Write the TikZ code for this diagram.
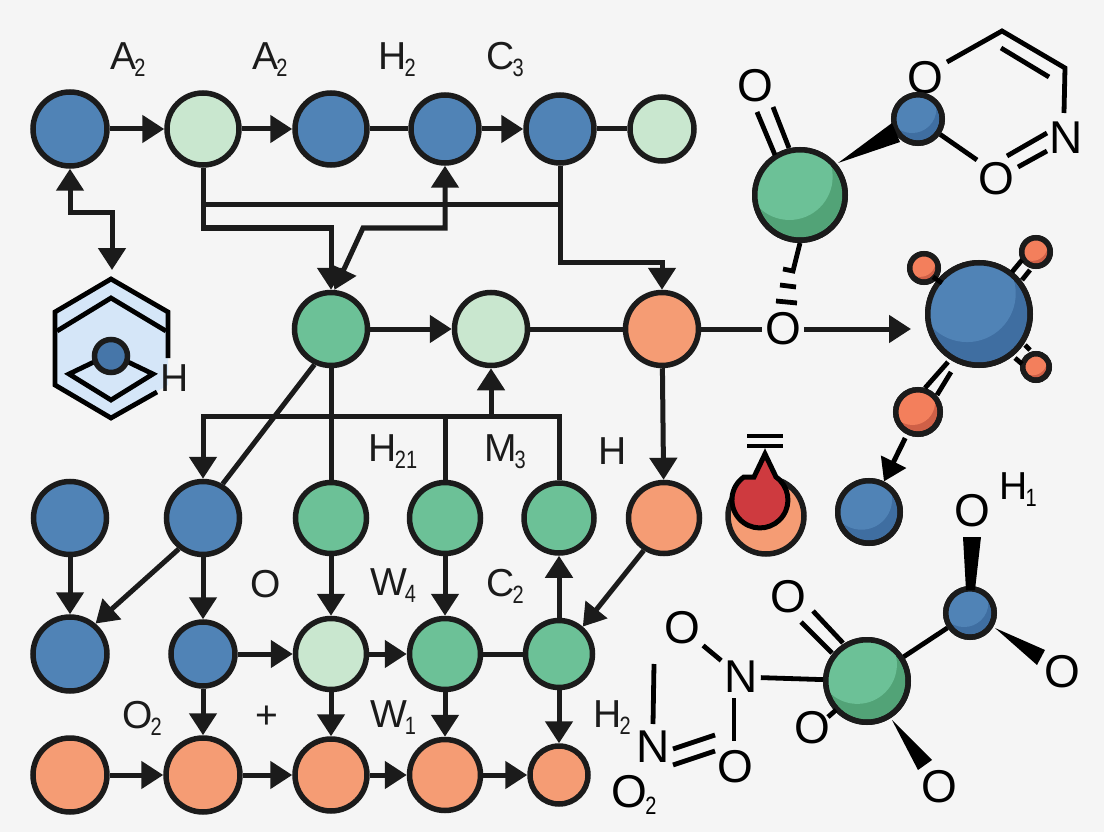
\documentclass[tikz,border=0pt]{standalone}
\usepackage{fontspec}
\setmainfont{Liberation Sans}
\usetikzlibrary{arrows.meta}
\definecolor{bgc}{HTML}{F5F5F5}
\definecolor{ink}{HTML}{1B1B1B}
\definecolor{blueN}{HTML}{5083B6}
\definecolor{blueD}{HTML}{3F6EA1}
\definecolor{greenN}{HTML}{6CC197}
\definecolor{greenD}{HTML}{52A377}
\definecolor{lightN}{HTML}{C9E7CF}
\definecolor{orangeN}{HTML}{F59C74}
\definecolor{coralN}{HTML}{F37F5C}
\definecolor{coralD}{HTML}{CF6047}
\definecolor{redN}{HTML}{CE3A3F}
\definecolor{hexN}{HTML}{D5E6F8}
\newcommand{\sbs}[1]{\raisebox{-7pt}{\fontsize{25}{25}\selectfont\hspace{-2pt}\scalebox{.8}[1]{#1}}}
\tikzset{
  dot/.style={circle,draw=ink,line width=5.5pt,inner sep=0pt,minimum size=#1},
  lab/.style={inner sep=0pt,text=ink,font=\fontsize{39}{39}\selectfont},
  atom/.style={inner sep=3pt,text=black,font=\fontsize{46}{46}\selectfont},
  atomn/.style={inner sep=3pt,text=black,font=\fontsize{46}{46}\selectfont},
  flow/.style={draw=ink,line width=5pt,line join=miter},
  tipr/.style={-{Triangle[length=22pt,width=27pt]}},
  tipb/.style={{Triangle[length=22pt,width=27pt]}-{Triangle[length=22pt,width=27pt]}},
  tipl/.style={{Triangle[length=22pt,width=27pt]}-},
  bond/.style={draw=black,line width=4.8pt},
}
% name, x, y, R, light, dark
\newcommand{\ball}[6]{%
  \pgfmathsetmacro{\bd}{2*#4-5.5}%
  \pgfmathsetmacro{\bcx}{#2-.22*#4}%
  \pgfmathsetmacro{\bcy}{#3-.38*#4}%
  \pgfmathsetmacro{\brr}{.9*#4}%
  \pgfmathsetmacro{\bri}{#4-2.75}%
  \node[dot=\bd pt,fill=#6] (#1) at (#2,#3) {};
  \begin{scope}
    \clip (#2,#3) circle (\bri);
    \fill[#5] (\bcx,\bcy) circle (\brr);
  \end{scope}
  \draw[draw=ink,line width=5.5pt] (#2,#3) circle (\bri);}
\begin{document}
\begin{tikzpicture}[x=1pt,y=-1pt]
\useasboundingbox (0,0) rectangle (1104,832);
\fill[bgc] (0,0) rectangle (1104,832);
% row 1
\node[dot=74pt,fill=blueN] (a1) at (70,129) {};
\node[dot=72pt,fill=lightN] (a2) at (203,129) {};
\node[dot=72pt,fill=blueN] (a3) at (331,129) {};
\node[dot=68pt,fill=blueN] (a4) at (445,129) {};
\node[dot=68pt,fill=blueN] (a5) at (560,129) {};
\node[dot=64pt,fill=lightN] (a6) at (662,129) {};
% row 2
\node[dot=73pt,fill=greenN] (g) at (331,329) {};
\node[dot=73pt,fill=lightN] (l) at (491,329) {};
\node[dot=73pt,fill=orangeN] (o) at (662,329) {};
% row 3
\node[dot=73pt,fill=blueN] (b1) at (70,518) {};
\node[dot=73pt,fill=blueN] (b2) at (203,518) {};
\node[dot=71pt,fill=greenN] (b3) at (331,518) {};
\node[dot=71pt,fill=greenN] (b4) at (445,518) {};
\node[dot=70pt,fill=greenN] (b5) at (559,518) {};
\node[dot=71pt,fill=orangeN] (b6) at (664,518) {};
% row 4
\node[dot=74pt,fill=blueN] (c1) at (70,654) {};
\node[dot=64pt,fill=blueN] (c2) at (203,654) {};
\node[dot=71pt,fill=lightN] (c3) at (331,654) {};
\node[dot=71pt,fill=greenN] (c4) at (445,654) {};
\node[dot=67pt,fill=greenN] (c5) at (559,654) {};
% row 5
\node[dot=74pt,fill=orangeN] (d1) at (70,775) {};
\node[dot=74pt,fill=orangeN] (d2) at (203,775) {};
\node[dot=72pt,fill=orangeN] (d3) at (331,775) {};
\node[dot=71pt,fill=orangeN] (d4) at (445,775) {};
\node[dot=58pt,fill=orangeN] (d5) at (559,775) {};
% routing points
\coordinate (j1) at (331,228);
\coordinate (j2) at (363,228);
\coordinate (j3) at (203,205);
\coordinate (j4) at (662,262);
\coordinate (j5) at (70,213);
\coordinate (hexin) at (112,270);
\coordinate (busL) at (203,416);
\coordinate (busM) at (491,416);
\coordinate (arrowend) at (911,329);
% row connectors
\draw[flow,tipr] (a1) -- (a2);
\draw[flow,tipr] (a2) -- (a3);
\draw[flow] (a3) -- (a4);
\draw[flow,tipr] (a4) -- (a5);
\draw[flow] (a5) -- (a6);
\draw[flow,tipb] (a1.south) -- (j5) -| (hexin);
\draw[flow,tipr] (a2.south) |- (j1) -- (g.north);
\draw[flow,tipb] (g.85) -- (j2) -| (a4.south);
\draw[flow] (a5.south) |- (j3);
\draw[flow,tipr] (a5.south) |- (j4) -- (o.north);
\draw[flow,tipr] (g) -- (l);
\draw[flow] (l) -- (o);
\draw[flow,tipr] (o) -- (b6);
\draw[flow] (g.245) -- (b2.60);
\draw[flow] (g.south) -- (b3.north);
\draw[flow,tipl] (b2.north) -- (busL) -| (b5.north);
\draw[flow] (b4.north) -- (b4.north |- busL);
\draw[flow,tipl] (l.south) -- (busM);
\draw[flow,tipr] (b1) -- (c1);
\draw[flow,tipr] (b2.232) -- (c1.50);
\draw[flow,tipr] (b2) -- (c2);
\draw[flow,tipr] (b3) -- (c3);
\draw[flow,tipr] (b4) -- (c4);
\draw[flow,tipr] (c5) -- (b5);
\draw[flow,tipr] (b6.238) -- (c5.49);
\draw[flow,tipr] (c2) -- (c3);
\draw[flow,tipr] (c3) -- (c4);
\draw[flow] (c4) -- (c5);
\draw[flow,tipr] (c2) -- (d2);
\draw[flow,tipr] (c3) -- (d3);
\draw[flow,tipr] (c4) -- (d4);
\draw[flow,tipr] (c5) -- (d5);
\draw[flow,tipr] (d1) -- (d2);
\draw[flow,tipr] (d2) -- (d3);
\draw[flow,tipr] (d3) -- (d4);
\draw[flow,tipr] (d4) -- (d5);
% labels
\node[lab] (t1) at (128,60) {A\sbs{2}};
\node[lab] (t2) at (270,60) {A\sbs{2}};
\node[lab] (t3) at (397,60) {H\sbs{2}};
\node[lab] (t4) at (505,60) {C\sbs{3}};
\node[lab] (t5) at (393,452) {H\sbs{21}};
\node[lab] (t6) at (505,452) {M\sbs{3}};
\node[lab] (t7) at (613,451) {H};
\node[lab] (t8) at (266,584) {O};
\node[lab] (t9) at (393,586) {W\sbs{4}};
\node[lab] (t10) at (505,586) {C\sbs{2}};
\node[lab] (t11) at (142,718) {O\sbs{2}};
\node[lab] (t12) at (267,717) {+};
\node[lab] (t13) at (393,718) {W\sbs{1}};
\node[lab] (t14) at (612,718) {H\sbs{2}};
% hexagon
\fill[hexN] (111,279) -- (168,312) -- (168,385) -- (111,418) -- (55,385) -- (55,312) -- cycle;
\draw[bond,miter limit=10] (168,358) -- (168,312) -- (111,279) -- (55,312) -- (55,385) -- (111,418) -- (157,392);
\draw[bond] (57,331) -- (111,298) -- (166,331);
\draw[bond] (96,361) -- (69,374) -- (111,400) -- (153,374) -- (126,361);
\node[dot=33pt,fill=blueD!60!blueN] (hexc) at (111,356) {};
\node[lab] (hexh) at (175,378) {H};
% upper right molecule
\node[atom] (u1) at (755,86) {O};
\node[atom] (u2) at (925,78) {O};
\node[atom] (u3) at (996,179) {O};
\node[atomn] (u4) at (1066,138) {N};
\ball{ug}{800}{195}{48}{greenN}{greenD}
\ball{ub}{918}{119}{27}{blueN}{blueD}
\fill[black] (838,163) -- (892,123) -- (900,142) -- cycle;
\draw[bond] (757,112) -- (775,155) (773,107) -- (789,148);
\draw[bond] (ub) -- (977,160);
\draw[bond] (1007,156) -- (1047,133) (1018,167) -- (1047,151);
\coordinate (r1) at (1002,31);
\coordinate (r2) at (1065,68);
\draw[bond,line join=miter] (947,62) -- (r1) -- (r2) -- (1064,113);
\draw[bond] (1001,48) -- (1049,77);
\node[atom] (u5) at (783,329) {O};
\draw[bond,line join=miter] (ug.south) -- (793,271) -- (783,269);
\draw[bond] (780,285) -- (796,287) (776,301) -- (797,303);
% middle right
\draw[flow] (o) -- (u5);
\ball{mb}{979}{314}{54}{blueN}{blueD}
\draw[flow,tipr] (u5) -- (arrowend);
\ball{m1}{924}{268}{17}{coralN}{coralD}
\ball{m2}{1036}{252}{17}{coralN}{coralD}
\ball{m3}{1036}{367}{16}{coralN}{coralD}
\ball{m4}{918}{412}{25}{coralN}{coralD}
\draw[bond] (1012,272) -- (1022,260) (1022,280) -- (1030,270);
\draw[bond] (1025,345) -- (1030,350) (1015,358) -- (1022,364);
\draw[bond] (948,362) -- (925,388) (951,372) -- (937,395);
\draw[bond] (933,277) -- (942,283);
\ball{mc}{869}{512}{34}{blueN}{blueD}
\draw[flow,draw=black,tipr,shorten <=4pt] (m4) -- (mc);
\node[dot=76pt,fill=orangeN] (ro) at (766,516) {};
\draw[draw=black,line width=5pt,fill=redN,line join=miter] (754,477) -- (765,454) -- (776,477) arc[start angle=-55,end angle=235,radius=28] -- cycle;
\draw[bond,line width=4pt] (747,436) -- (783,436) (747,446) -- (783,446);
% lower right molecule
\node[atom] (v1) at (972,511) {O};
\node[lab,text=black] (v2) at (1018,490) {H\sbs{1}};
\ball{vb}{970}{613}{27}{blueN}{blueD}
\ball{vg}{867}{681}{44}{greenN}{greenD}
\node[atom] (v3) at (788,597) {O};
\node[atom] (v4) at (682,628) {O};
\node[atomn] (v5) at (741,677) {N};
\node[atom] (v6) at (735,767) {O};
\node[atomn] (v7) at (653,747) {N};
\node[atom] (v8) at (812,728) {O};
\node[atom] (v9) at (939,787) {O};
\node[atom] (v10) at (1062,672) {O};
\node[atom,inner sep=0pt] (v11) at (634,795) {O\sbs{2}};
\coordinate (v12) at (654,664);
\fill[black] (963,537) -- (981,537) -- (975,590) -- (966,590) -- cycle;
\fill[black] (892,720) -- (932,760) -- (918,770) -- cycle;
\fill[black] (995,628) -- (1045,650) -- (1037,665) -- cycle;
\draw[bond] (801,622) -- (832,653) (813,611) -- (843,643);
\draw[bond] (v4) -- (v5);
\draw[bond] (v5) -- (vg);
\draw[bond] (734,698) -- (734,741);
\draw[bond] (673,749) -- (715,735) (673,765) -- (715,751);
\draw[bond] (v12) -- (653,724);
\draw[bond] (828,717) -- (836,710);
\draw[bond] (vg) -- (vb);
\end{tikzpicture}
\end{document}
